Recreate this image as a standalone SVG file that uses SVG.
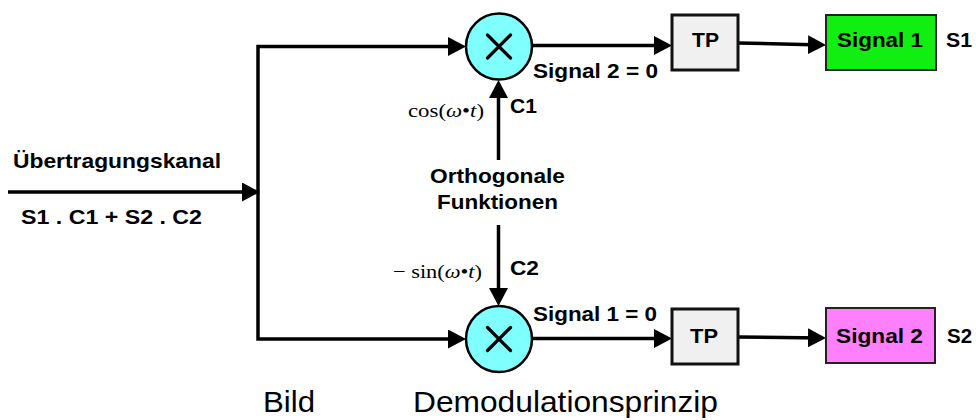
<svg xmlns="http://www.w3.org/2000/svg" width="976" height="420" viewBox="0 0 976 420">
<style>
.b{font-family:"Liberation Sans",Arial,sans-serif;font-weight:bold;font-size:21px;fill:#000}
.r{font-family:"Liberation Sans",Arial,sans-serif;font-size:29px;fill:#000}
.m{font-family:"Liberation Serif","Times New Roman",serif;font-size:19px;fill:#000}
.i{font-style:italic}
.ln{fill:none;stroke:#000;stroke-width:3.5;marker-end:url(#ah)}
.mul{fill:#80ffff;stroke:#000;stroke-width:2.5}
.x{stroke:#000;stroke-width:3.2;stroke-linecap:round}
.tp{fill:#f0f0f0;stroke:#111;stroke-width:3}
.sg{stroke:#222;stroke-width:2}
</style>
<defs>
<marker id="ah" markerUnits="userSpaceOnUse" markerWidth="18" markerHeight="19" refX="14" refY="9.5" orient="auto">
<path d="M0,0 L18,9.5 L0,19 Z" fill="#000"/>
</marker>
</defs>
<g id="connectors">
<path class="ln" d="M8,192 H256"/>
<path class="ln" d="M258,192 V46.5 H462"/>
<path class="ln" d="M258,192 V339 H462"/>
<path class="ln" d="M532,45.5 H668"/>
<path class="ln" d="M738,43 L822,45"/>
<path class="ln" d="M498.5,160 V84"/>
<path class="ln" d="M498.5,225 V302"/>
<path class="ln" d="M532,338.5 H668"/>
<path class="ln" d="M738,337 L822,338"/>
</g>
<g id="mult1">
<circle class="mul" cx="499" cy="46.5" r="33"/>
<path class="x" d="M487.5,35 L510.5,58 M510.5,35 L487.5,58"/>
</g>
<g id="mult2">
<circle class="mul" cx="499" cy="339" r="33"/>
<path class="x" d="M487.5,327.5 L510.5,350.5 M510.5,327.5 L487.5,350.5"/>
</g>
<g id="tp1">
<rect class="tp" x="672" y="15" width="66" height="55"/>
<text class="b" x="692" y="47" textLength="27" lengthAdjust="spacingAndGlyphs">TP</text>
</g>
<g id="tp2">
<rect class="tp" x="672" y="309" width="66" height="55"/>
<text class="b" x="690" y="343" textLength="28" lengthAdjust="spacingAndGlyphs">TP</text>
</g>
<g id="signal1">
<rect class="sg" x="826" y="15" width="110" height="55" fill="#11ee11"/>
<text class="b" x="837" y="47" textLength="86" lengthAdjust="spacingAndGlyphs">Signal 1</text>
</g>
<g id="signal2">
<rect class="sg" x="826" y="308" width="109" height="55" fill="#ff80ff"/>
<text class="b" x="836" y="343" textLength="87" lengthAdjust="spacingAndGlyphs">Signal 2</text>
</g>
<g id="labels">
<text class="b" x="13" y="168" textLength="208" lengthAdjust="spacingAndGlyphs">Übertragungskanal</text>
<text class="b" x="21" y="224" textLength="181" lengthAdjust="spacingAndGlyphs">S1 . C1 + S2 . C2</text>
<text class="m" x="408" y="117" textLength="76" lengthAdjust="spacingAndGlyphs">cos(<tspan class="i">ω</tspan>•<tspan class="i">t</tspan>)</text>
<text class="b" x="510" y="113" textLength="27" lengthAdjust="spacingAndGlyphs">C1</text>
<text class="b" x="533" y="78" textLength="125" lengthAdjust="spacingAndGlyphs">Signal 2 = 0</text>
<text class="b" x="946" y="47" textLength="26" lengthAdjust="spacingAndGlyphs">S1</text>
<text class="b" x="430" y="183" textLength="135" lengthAdjust="spacingAndGlyphs">Orthogonale</text>
<text class="b" x="437" y="209" textLength="121" lengthAdjust="spacingAndGlyphs">Funktionen</text>
<text class="m" x="393" y="278" textLength="89" lengthAdjust="spacingAndGlyphs">− sin(<tspan class="i">ω</tspan>•<tspan class="i">t</tspan>)</text>
<text class="b" x="510" y="275" textLength="29" lengthAdjust="spacingAndGlyphs">C2</text>
<text class="b" x="533" y="321" textLength="124" lengthAdjust="spacingAndGlyphs">Signal 1 = 0</text>
<text class="b" x="947" y="343" textLength="25" lengthAdjust="spacingAndGlyphs">S2</text>
<text class="r" x="263" y="411.5" textLength="52" lengthAdjust="spacingAndGlyphs">Bild</text>
<text class="r" x="413" y="411.5" textLength="305" lengthAdjust="spacingAndGlyphs">Demodulationsprinzip</text>
</g>
</svg>
